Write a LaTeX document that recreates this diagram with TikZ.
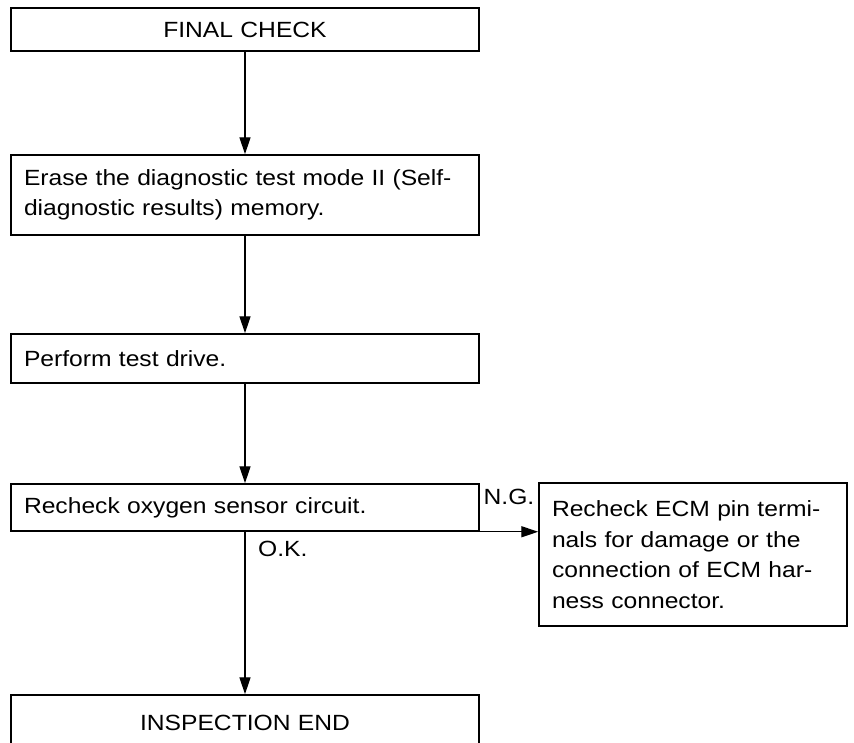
\documentclass[tikz,border=0pt]{standalone}
\usepackage{fontspec}
\setmainfont{Liberation Sans}[FakeStretch=1.12]
\usetikzlibrary{arrows.meta}
\begin{document}
\begin{tikzpicture}[x=1pt,y=-1pt,
  box/.style={draw, line width=1.5pt, inner xsep=13pt, inner ysep=0pt,
    align=left, font=\fontsize{22}{30.5}\selectfont},
  flow/.style={line width=1.4pt, -{Triangle[length=17pt,width=11pt]}},
  lbl/.style={font=\fontsize{22}{26}\selectfont, inner sep=0pt}]
  \useasboundingbox (0,0) rectangle (854,742);
  % main column of steps
  \node[box, text width=442pt, minimum height=43pt, align=center] (final) at (245,29.5) {FINAL CHECK};
  \node[box, text width=442pt, minimum height=80pt] (erase) at (245,195)
    {Erase the diagnostic test mode II (Self-\\diagnostic results) memory.};
  \node[box, text width=442pt, minimum height=49pt] (drive) at (245,358.5) {Perform test drive.};
  \node[box, text width=442pt, minimum height=47pt] (recheck) at (245,507.5) {Recheck oxygen sensor circuit.};
  \node[box, text width=442pt, minimum height=55pt, align=center] (end) at (245,722.5) {INSPECTION END};
  % side step for N.G.
  \node[box, text width=282pt, minimum height=143pt] (ecm) at (693,554.5)
    {Recheck ECM pin termi-\\nals for damage or the\\connection of ECM har-\\ness connector.};
  % connectors
  \draw[flow] (final) -- (erase);
  \draw[flow] (erase) -- (drive);
  \draw[flow] (drive) -- (recheck);
  \draw[flow] (recheck) -- (end);
  \draw[flow] (recheck.south east) -- (ecm.west |- recheck.south east);
  % branch labels
  \node[lbl, anchor=west] (ok) at (258,549) {O.K.};
  \node[lbl] (ng) at (509,497) {N.G.};
\end{tikzpicture}
\end{document}
